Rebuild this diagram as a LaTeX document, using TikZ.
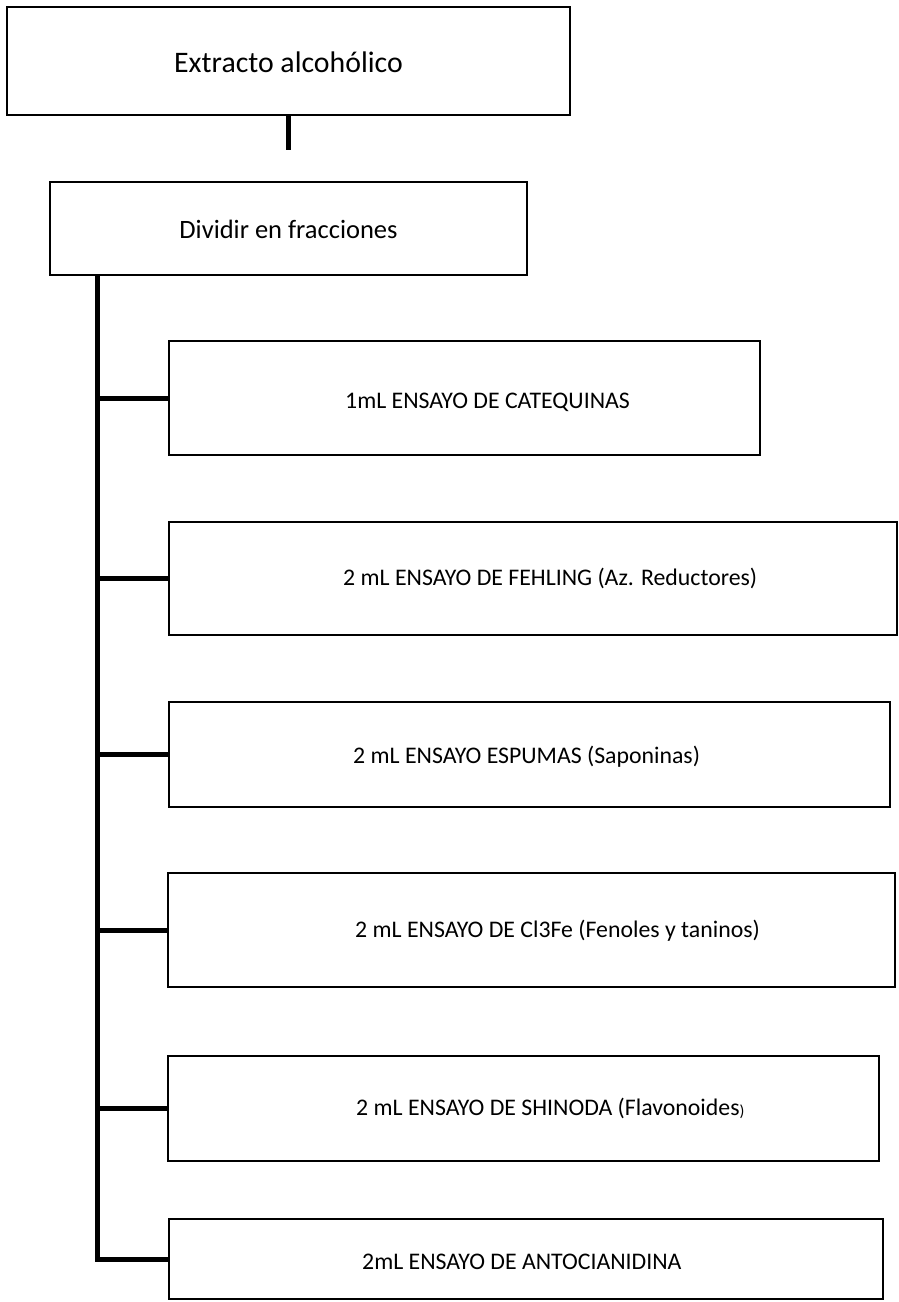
\documentclass[tikz,border=0pt]{standalone}
\usepackage{fontspec}
\setmainfont{Carlito}
\begin{document}
\begin{tikzpicture}[x=1pt,y=-1pt,
  box/.style={draw=black, line width=2.4pt, fill=none, inner sep=0pt, outer sep=0pt},
  conn/.style={draw=black, line width=5pt},
  lbl/.style={inner sep=0pt, anchor=west, font=\fontsize{23.8}{26}\selectfont},
  ttl/.style={inner sep=0pt, anchor=center}]
\useasboundingbox[fill=white] (0,0) rectangle (898,1302);
% boxes
\node[box, minimum width=563pt, minimum height=108pt] (top) at (288.5,61) {};
\node[box, minimum width=477pt, minimum height=93pt] (div) at (288.5,228.5) {};
\node[box, minimum width=591pt, minimum height=114pt] (b1) at (464.5,398) {};
\node[box, minimum width=728pt, minimum height=113pt] (b2) at (533,578.5) {};
\node[box, minimum width=721pt, minimum height=105pt] (b3) at (529.5,754.5) {};
\node[box, minimum width=727pt, minimum height=114pt] (b4) at (531.5,930) {};
\node[box, minimum width=711pt, minimum height=105pt] (b5) at (523.5,1108.5) {};
\node[box, minimum width=714pt, minimum height=80pt] (b6) at (526,1259) {};
% texts
\node[ttl, font=\fontsize{29.8}{32}\selectfont] (ttop) at (288.5,62) {Extracto alcohólico};
\node[ttl, font=\fontsize{26.5}{28}\selectfont] (tdiv) at (288.5,229) {Dividir en fracciones};
\node[lbl] (t1) at (345,402) {1mL ENSAYO DE CATEQUINAS};
\node[lbl] (t2) at (343,578) {2 mL ENSAYO DE FEHLING (Az. Reductores)};
\node[lbl] (t3) at (353,757) {2 mL ENSAYO ESPUMAS (Saponinas)};
\node[lbl] (t4) at (355,931) {2 mL ENSAYO DE Cl3Fe (Fenoles y taninos)};
\node[lbl] (t5) at (356,1108) {2 mL ENSAYO DE SHINODA (Flavonoides{\fontsize{16}{17}\selectfont\raisebox{-1pt}{)}}};
\node[lbl] (t6) at (362,1262) {2mL ENSAYO DE ANTOCIANIDINA};
% connectors
\coordinate (stubend) at (288.5,150);
\draw[conn] (top.south) -- (stubend);
\coordinate (t0) at (97,275);
\draw[conn] (t0) |- (b6.west);
\foreach \b in {b1,b2,b3,b4,b5}{
  \draw[conn] (t0 |- \b.west) -- (\b.west);
}
\end{tikzpicture}
\end{document}
